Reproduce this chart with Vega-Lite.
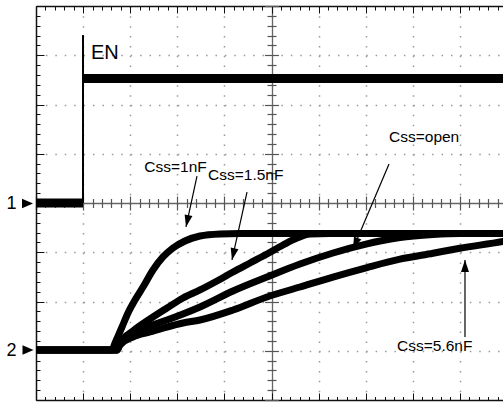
{
  "$schema": "https://vega.github.io/schema/vega-lite/v6.json",
  "width": 467,
  "height": 394,
  "autosize": {"type": "none"},
  "padding": {"left": 36, "top": 6, "right": 0, "bottom": 5},
  "background": "white",
  "config": {"view": {"stroke": null}, "font": "Liberation Sans"},
  "datasets": {
    "traces": [
      {"ch": 1, "s": "ENlow", "x": 0, "y": 4},
      {"ch": 1, "s": "ENlow", "x": 0.998, "y": 4},
      {"ch": 1, "s": "ENhigh", "x": 0.998, "y": 6.53},
      {"ch": 1, "s": "ENhigh", "x": 10, "y": 6.53},
      {"ch": 2, "s": "1nF", "x": 0, "y": 1.015},
      {"ch": 2, "s": "1nF", "x": 1.614, "y": 1.015},
      {"ch": 2, "s": "1nF", "x": 1.677, "y": 1.157},
      {"ch": 2, "s": "1nF", "x": 1.826, "y": 1.482},
      {"ch": 2, "s": "1nF", "x": 1.953, "y": 1.766},
      {"ch": 2, "s": "1nF", "x": 2.102, "y": 2.03},
      {"ch": 2, "s": "1nF", "x": 2.272, "y": 2.294},
      {"ch": 2, "s": "1nF", "x": 2.484, "y": 2.64},
      {"ch": 2, "s": "1nF", "x": 2.696, "y": 2.904},
      {"ch": 2, "s": "1nF", "x": 2.909, "y": 3.086},
      {"ch": 2, "s": "1nF", "x": 3.163, "y": 3.228},
      {"ch": 2, "s": "1nF", "x": 3.482, "y": 3.33},
      {"ch": 2, "s": "1nF", "x": 3.907, "y": 3.371},
      {"ch": 2, "s": "1nF", "x": 4.331, "y": 3.381},
      {"ch": 2, "s": "1nF", "x": 10, "y": 3.381},
      {"ch": 2, "s": "1.5nF", "x": 0, "y": 1.015},
      {"ch": 2, "s": "1.5nF", "x": 1.72, "y": 1.015},
      {"ch": 2, "s": "1.5nF", "x": 1.783, "y": 1.157},
      {"ch": 2, "s": "1.5nF", "x": 2.059, "y": 1.401},
      {"ch": 2, "s": "1.5nF", "x": 2.42, "y": 1.645},
      {"ch": 2, "s": "1.5nF", "x": 2.781, "y": 1.868},
      {"ch": 2, "s": "1.5nF", "x": 3.121, "y": 2.071},
      {"ch": 2, "s": "1.5nF", "x": 3.482, "y": 2.234},
      {"ch": 2, "s": "1.5nF", "x": 3.843, "y": 2.416},
      {"ch": 2, "s": "1.5nF", "x": 4.183, "y": 2.599},
      {"ch": 2, "s": "1.5nF", "x": 4.544, "y": 2.782},
      {"ch": 2, "s": "1.5nF", "x": 4.904, "y": 2.964},
      {"ch": 2, "s": "1.5nF", "x": 5.244, "y": 3.147},
      {"ch": 2, "s": "1.5nF", "x": 5.541, "y": 3.289},
      {"ch": 2, "s": "1.5nF", "x": 5.817, "y": 3.371},
      {"ch": 2, "s": "1.5nF", "x": 6.242, "y": 3.381},
      {"ch": 2, "s": "1.5nF", "x": 10, "y": 3.381},
      {"ch": 2, "s": "open", "x": 0, "y": 1.015},
      {"ch": 2, "s": "open", "x": 1.72, "y": 1.015},
      {"ch": 2, "s": "open", "x": 1.783, "y": 1.137},
      {"ch": 2, "s": "open", "x": 2.059, "y": 1.36},
      {"ch": 2, "s": "open", "x": 2.42, "y": 1.503},
      {"ch": 2, "s": "open", "x": 2.781, "y": 1.624},
      {"ch": 2, "s": "open", "x": 3.121, "y": 1.746},
      {"ch": 2, "s": "open", "x": 3.482, "y": 1.888},
      {"ch": 2, "s": "open", "x": 4.183, "y": 2.213},
      {"ch": 2, "s": "open", "x": 4.904, "y": 2.497},
      {"ch": 2, "s": "open", "x": 5.605, "y": 2.761},
      {"ch": 2, "s": "open", "x": 6.306, "y": 2.985},
      {"ch": 2, "s": "open", "x": 7.028, "y": 3.17},
      {"ch": 2, "s": "open", "x": 7.304, "y": 3.228},
      {"ch": 2, "s": "open", "x": 7.728, "y": 3.3},
      {"ch": 2, "s": "open", "x": 8.429, "y": 3.36},
      {"ch": 2, "s": "open", "x": 9.0, "y": 3.381},
      {"ch": 2, "s": "open", "x": 10, "y": 3.381},
      {"ch": 2, "s": "5.6nF", "x": 0, "y": 1.015},
      {"ch": 2, "s": "5.6nF", "x": 1.72, "y": 1.015},
      {"ch": 2, "s": "5.6nF", "x": 1.783, "y": 1.117},
      {"ch": 2, "s": "5.6nF", "x": 2.059, "y": 1.279},
      {"ch": 2, "s": "5.6nF", "x": 2.42, "y": 1.381},
      {"ch": 2, "s": "5.6nF", "x": 2.781, "y": 1.482},
      {"ch": 2, "s": "5.6nF", "x": 3.121, "y": 1.563},
      {"ch": 2, "s": "5.6nF", "x": 3.482, "y": 1.624},
      {"ch": 2, "s": "5.6nF", "x": 4.183, "y": 1.827},
      {"ch": 2, "s": "5.6nF", "x": 4.904, "y": 2.091},
      {"ch": 2, "s": "5.6nF", "x": 5.605, "y": 2.294},
      {"ch": 2, "s": "5.6nF", "x": 6.306, "y": 2.497},
      {"ch": 2, "s": "5.6nF", "x": 7.028, "y": 2.69},
      {"ch": 2, "s": "5.6nF", "x": 7.728, "y": 2.86},
      {"ch": 2, "s": "5.6nF", "x": 8.429, "y": 2.98},
      {"ch": 2, "s": "5.6nF", "x": 9.0, "y": 3.08},
      {"ch": 2, "s": "5.6nF", "x": 9.915, "y": 3.22},
      {"ch": 2, "s": "5.6nF", "x": 10, "y": 3.235}
    ],
    "edge": [{"x": 0.998, "y": 4, "y2": 7.41}],
    "labels": [
      {"t": "EN", "x": 1.168, "y": 6.924},
      {"t": "Css=1nF", "x": 2.3, "y": 4.629},
      {"t": "Css=1.5nF", "x": 3.652, "y": 4.467},
      {"t": "Css=open", "x": 7.495, "y": 5.239},
      {"t": "Css=5.6nF", "x": 7.665, "y": 0.995}
    ],
    "arrows": [
      {"x": 3.418, "y": 4.548, "x2": 3.185, "y2": 3.513},
      {"x": 4.48, "y": 4.223, "x2": 4.161, "y2": 2.843},
      {"x": 7.495, "y": 4.792, "x2": 6.73, "y2": 3.066},
      {"x": 9.108, "y": 1.279, "x2": 9.108, "y2": 2.843}
    ],
    "markerText": [
      {"t": "1", "x": -0.414, "y": 3.878},
      {"t": "2", "x": -0.414, "y": 0.893}
    ],
    "markerTri": [
      {"ch": "1", "x": -0.18, "y": 3.99},
      {"ch": "2", "x": -0.17, "y": 1.015}
    ]
  },
  "resolve": {"axis": {"x": "independent", "y": "independent"}},
  "layer": [
    {
      "data": {"name": "traces"},
      "transform": [{"filter": "datum.ch === 2"}],
      "mark": {"type": "line", "color": "black", "strokeWidth": 7, "clip": true, "interpolate": "monotone"},
      "encoding": {
        "x": {"field": "x", "type": "quantitative", "scale": {"domain": [0, 9.915], "nice": false, "zero": false},
          "axis": {"orient": "bottom", "title": null, "labels": false, "values": [0,0.2,0.4,0.6,0.8,1,1.2,1.4,1.6,1.8,2,2.2,2.4,2.6,2.8,3,3.2,3.4,3.6,3.8,4,4.2,4.4,4.6,4.8,5,5.2,5.4,5.6,5.8,6,6.2,6.4,6.6,6.8,7,7.2,7.4,7.6,7.8,8,8.2,8.4,8.6,8.8,9,9.2,9.4,9.6,9.8],
            "domain": true, "domainColor": "#111", "domainWidth": 1.5, "tickColor": "#111", "tickWidth": 1,
            "tickSize": {"condition": {"test": "datum.value % 1 === 0", "value": -7}, "value": -3.5},
            "grid": true,
            "gridOpacity": {"condition": {"test": "datum.value % 1 === 0 && datum.value > 0", "value": 1}, "value": 0},
            "gridDash": {"condition": {"test": "datum.value === 5", "value": [10, 0]}, "value": [1.5, 8.35]},
            "gridColor": {"condition": {"test": "datum.value === 5", "value": "#666"}, "value": "#999"},
            "gridWidth": {"condition": {"test": "datum.value === 5", "value": 1.3}, "value": 1.5}}},
        "y": {"field": "y", "type": "quantitative", "scale": {"domain": [0, 8], "nice": false, "zero": false},
          "axis": {"orient": "left", "title": null, "labels": false, "values": [0,0.2,0.4,0.6,0.8,1,1.2,1.4,1.6,1.8,2,2.2,2.4,2.6,2.8,3,3.2,3.4,3.6,3.8,4,4.2,4.4,4.6,4.8,5,5.2,5.4,5.6,5.8,6,6.2,6.4,6.6,6.8,7,7.2,7.4,7.6,7.8,8],
            "domain": true, "domainColor": "#111", "domainWidth": 1.5, "tickColor": "#111", "tickWidth": 1,
            "tickSize": {"condition": {"test": "datum.value % 1 === 0", "value": -8}, "value": -4},
            "grid": true,
            "gridOpacity": {"condition": {"test": "datum.value % 1 === 0 && datum.value > 0 && datum.value < 8", "value": 1}, "value": 0},
            "gridDash": {"condition": {"test": "datum.value === 4", "value": [10, 0]}, "value": [1.5, 7.92]},
            "gridColor": {"condition": {"test": "datum.value === 4", "value": "#666"}, "value": "#999"},
            "gridWidth": {"condition": {"test": "datum.value === 4", "value": 1.3}, "value": 1.5}}},
        "detail": {"field": "s", "type": "nominal"}
      }
    },
    {
      "data": {"name": "traces"},
      "transform": [{"filter": "datum.ch === 1"}],
      "mark": {"type": "line", "color": "black", "strokeWidth": 9, "clip": true},
      "encoding": {
        "x": {"field": "x", "type": "quantitative", "scale": {"domain": [0, 9.915], "nice": false, "zero": false},
          "axis": {"orient": "top", "title": null, "labels": false, "values": [0,0.2,0.4,0.6,0.8,1,1.2,1.4,1.6,1.8,2,2.2,2.4,2.6,2.8,3,3.2,3.4,3.6,3.8,4,4.2,4.4,4.6,4.8,5,5.2,5.4,5.6,5.8,6,6.2,6.4,6.6,6.8,7,7.2,7.4,7.6,7.8,8,8.2,8.4,8.6,8.8,9,9.2,9.4,9.6,9.8],
            "domain": true, "domainColor": "#111", "domainWidth": 1.5, "tickColor": "#111", "tickWidth": 1, "grid": false,
            "tickSize": {"condition": {"test": "datum.value % 1 === 0", "value": -7}, "value": -4}}},
        "y": {"field": "y", "type": "quantitative", "scale": {"domain": [0, 8], "nice": false, "zero": false},
          "axis": {"orient": "left", "offset": -235.5, "title": null, "labels": false, "domain": false, "grid": false,
            "values": [0,0.2,0.4,0.6,0.8,1,1.2,1.4,1.6,1.8,2,2.2,2.4,2.6,2.8,3,3.2,3.4,3.6,3.8,4,4.2,4.4,4.6,4.8,5,5.2,5.4,5.6,5.8,6,6.2,6.4,6.6,6.8,7,7.2,7.4,7.6,7.8,8],
            "tickColor": "#555", "tickWidth": 1.2,
            "tickSize": {"condition": {"test": "datum.value % 1 === 0", "value": 7}, "value": 4.5}}},
        "detail": {"field": "s", "type": "nominal"}
      }
    },
    {
      "data": {"name": "arrows"},
      "mark": {"type": "rule", "color": "black", "strokeWidth": 1.2},
      "encoding": {
        "x": {"field": "x", "type": "quantitative", "scale": {"domain": [0, 9.915], "nice": false, "zero": false},
          "axis": {"orient": "bottom", "offset": -197, "title": null, "labels": false, "domain": false, "grid": false,
            "values": [0,0.2,0.4,0.6,0.8,1,1.2,1.4,1.6,1.8,2,2.2,2.4,2.6,2.8,3,3.2,3.4,3.6,3.8,4,4.2,4.4,4.6,4.8,5,5.2,5.4,5.6,5.8,6,6.2,6.4,6.6,6.8,7,7.2,7.4,7.6,7.8,8,8.2,8.4,8.6,8.8,9,9.2,9.4,9.6,9.8],
            "tickColor": "#555", "tickWidth": 1.2,
            "tickSize": {"condition": {"test": "datum.value % 1 === 0", "value": 7}, "value": 4.5}}},
        "y": {"field": "y", "type": "quantitative", "scale": {"domain": [0, 8], "nice": false, "zero": false},
          "axis": {"orient": "left", "offset": -235.5, "title": null, "labels": false, "domain": false, "grid": false,
            "values": [0,0.2,0.4,0.6,0.8,1,1.2,1.4,1.6,1.8,2,2.2,2.4,2.6,2.8,3,3.2,3.4,3.6,3.8,4,4.2,4.4,4.6,4.8,5,5.2,5.4,5.6,5.8,6,6.2,6.4,6.6,6.8,7,7.2,7.4,7.6,7.8,8],
            "tickColor": "#555", "tickWidth": 1.2,
            "tickSize": {"condition": {"test": "datum.value % 1 === 0", "value": -7}, "value": -4.5}}},
        "x2": {"field": "x2"},
        "y2": {"field": "y2"}
      }
    },
    {
      "data": {"name": "arrows"},
      "transform": [{"calculate": "atan2((datum.x2 - datum.x) * 47.1, (datum.y2 - datum.y) * 49.25) * 180 / PI", "as": "ang"}],
      "mark": {"type": "point", "shape": "M0,0L0.667,2L-0.667,2Z", "filled": true, "color": "black", "opacity": 1, "size": 144},
      "encoding": {
        "x": {"field": "x2", "type": "quantitative", "scale": {"domain": [0, 9.915], "nice": false, "zero": false},
          "axis": {"orient": "bottom", "offset": -197, "title": null, "labels": false, "domain": false, "grid": false,
            "values": [0,0.2,0.4,0.6,0.8,1,1.2,1.4,1.6,1.8,2,2.2,2.4,2.6,2.8,3,3.2,3.4,3.6,3.8,4,4.2,4.4,4.6,4.8,5,5.2,5.4,5.6,5.8,6,6.2,6.4,6.6,6.8,7,7.2,7.4,7.6,7.8,8,8.2,8.4,8.6,8.8,9,9.2,9.4,9.6,9.8],
            "tickColor": "#555", "tickWidth": 1.2,
            "tickSize": {"condition": {"test": "datum.value % 1 === 0", "value": -7}, "value": -4.5}}},
        "y": {"field": "y2", "type": "quantitative", "scale": {"domain": [0, 8], "nice": false, "zero": false}, "axis": null},
        "angle": {"field": "ang", "type": "quantitative", "scale": null}
      }
    },
    {
      "data": {"name": "edge"},
      "mark": {"type": "rule", "color": "black", "strokeWidth": 2},
      "encoding": {
        "x": {"field": "x", "type": "quantitative", "scale": {"domain": [0, 9.915], "nice": false, "zero": false}, "axis": null},
        "y": {"field": "y", "type": "quantitative", "scale": {"domain": [0, 8], "nice": false, "zero": false}, "axis": null},
        "y2": {"field": "y2"}
      }
    },
    {
      "data": {"name": "labels"},
      "mark": {"type": "text", "align": "left", "baseline": "alphabetic", "font": "Liberation Sans", "color": "black"},
      "encoding": {
        "x": {"field": "x", "type": "quantitative", "scale": {"domain": [0, 9.915], "nice": false, "zero": false}, "axis": null},
        "y": {"field": "y", "type": "quantitative", "scale": {"domain": [0, 8], "nice": false, "zero": false}, "axis": null},
        "text": {"field": "t"},
        "size": {"condition": {"test": "datum.t === 'EN'", "value": 20}, "value": 15.5}
      }
    },
    {
      "data": {"name": "markerText"},
      "mark": {"type": "text", "align": "right", "baseline": "alphabetic", "font": "Liberation Sans", "fontSize": 18, "color": "black"},
      "encoding": {
        "x": {"field": "x", "type": "quantitative", "scale": {"domain": [0, 9.915], "nice": false, "zero": false}, "axis": null},
        "y": {"field": "y", "type": "quantitative", "scale": {"domain": [0, 8], "nice": false, "zero": false}, "axis": null},
        "text": {"field": "t"}
      }
    },
    {
      "data": {"name": "markerTri"},
      "mark": {"type": "point", "shape": "M-1,-0.85L1,0L-1,0.85Z", "filled": true, "color": "black", "opacity": 1, "size": 121},
      "encoding": {
        "x": {"field": "x", "type": "quantitative", "scale": {"domain": [0, 9.915], "nice": false, "zero": false}, "axis": null},
        "y": {"field": "y", "type": "quantitative", "scale": {"domain": [0, 8], "nice": false, "zero": false}, "axis": null}
      }
    }
  ]
}
